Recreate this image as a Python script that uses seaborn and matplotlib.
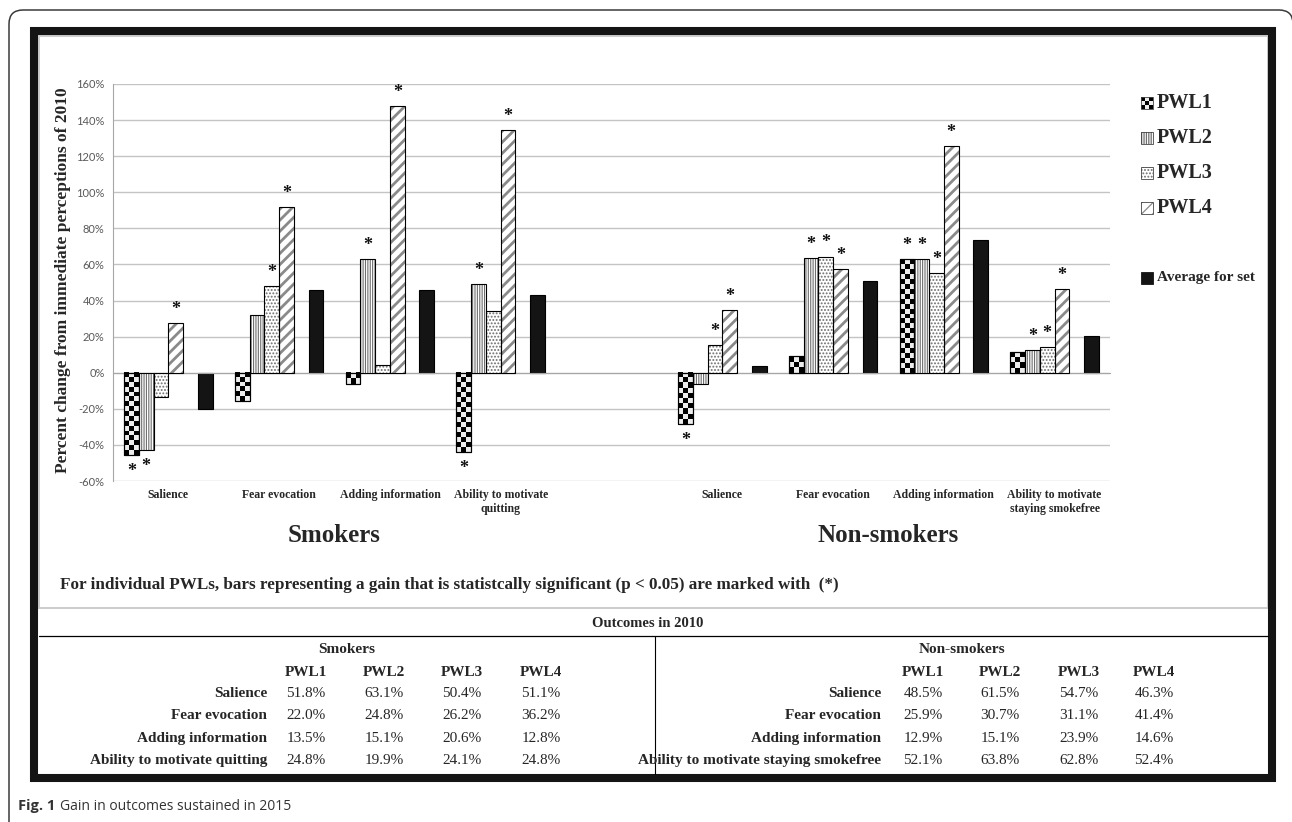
# Tratamiento de datos
import numpy as np
import pandas as pd

# Visualizaciones
import matplotlib
matplotlib.use("Agg")
import matplotlib.pyplot as plt
import matplotlib.patches as mpatches
import matplotlib.transforms as mtransforms
import seaborn as sns

W, H = 1292, 822

# ---------------- Datos ----------------
series = ["PWL1", "PWL2", "PWL3", "PWL4"]
avg_label = "Average for set"

smoker_cats = ["Salience", "Fear evocation", "Adding information",
               "Ability to motivate\nquitting"]
nonsmoker_cats = ["Salience", "Fear evocation", "Adding information",
                  "Ability to motivate\nstaying smokefree"]

smokers_pwl = [[-45.6, -43.0, -13.7, 27.8],
               [-15.6, 32.2, 48.1, 91.7],
               [-6.1, 62.8, 4.4, 147.8],
               [-44.1, 48.9, 34.0, 134.6]]
smokers_avg = [-20.2, 46.1, 46.0, 43.3]

nonsmokers_pwl = [[-28.5, -6.1, 15.2, 35.0],
                  [9.0, 63.3, 64.4, 57.6],
                  [62.8, 62.8, 55.0, 125.4],
                  [11.5, 12.4, 14.4, 46.4]]
nonsmokers_avg = [3.5, 50.9, 73.7, 20.6]

# 1 = significativo (p < 0.05), marcado con *
smokers_sig = [[1, 1, 0, 1], [0, 0, 1, 1], [0, 1, 0, 1], [1, 1, 0, 1]]
nonsmokers_sig = [[1, 0, 1, 1], [0, 1, 1, 1], [1, 1, 1, 1], [0, 1, 1, 1]]

# Tabla "Outcomes in 2010"
table_cols = ["PWL1", "PWL2", "PWL3", "PWL4"]
smokers_rows = ["Salience", "Fear evocation", "Adding information",
                "Ability to motivate quitting"]
smokers_table = [["51.8%", "63.1%", "50.4%", "51.1%"],
                 ["22.0%", "24.8%", "26.2%", "36.2%"],
                 ["13.5%", "15.1%", "20.6%", "12.8%"],
                 ["24.8%", "19.9%", "24.1%", "24.8%"]]
nonsmokers_rows = ["Salience", "Fear evocation", "Adding information",
                   "Ability to motivate staying smokefree"]
nonsmokers_table = [["48.5%", "61.5%", "54.7%", "46.3%"],
                    ["25.9%", "30.7%", "31.1%", "41.4%"],
                    ["12.9%", "15.1%", "23.9%", "14.6%"],
                    ["52.1%", "63.8%", "62.8%", "52.4%"]]

# ---------------- DataFrame largo ----------------
filas = []
for pref, pwl, avg, sig in [("S", smokers_pwl, smokers_avg, smokers_sig),
                            ("N", nonsmokers_pwl, nonsmokers_avg, nonsmokers_sig)]:
    for i in range(4):
        for j, s in enumerate(series):
            filas.append((f"{pref}{i}", s, pwl[i][j], sig[i][j]))
        filas.append((f"{pref}{i}", avg_label, avg[i], 0))
df = pd.DataFrame(filas, columns=["grupo", "serie", "valor", "sig"])

order = ["S0", "S1", "S2", "S3", "GAP", "N0", "N1", "N2", "N3"]
cat_labels = smoker_cats + [""] + nonsmoker_cats
hue_order = series + ["hueco", avg_label]
palette = {"PWL1": "white", "PWL2": "white", "PWL3": "white", "PWL4": "white",
           "hueco": "white", avg_label: "#141414"}

# ---------------- Estilo ----------------
sns.set_style("white")
plt.rcParams["font.family"] = ["Liberation Serif", "DejaVu Serif"]
plt.rcParams["hatch.linewidth"] = 0.9

SERIF = "Liberation Serif"
SANS = "Lato"
GRID = "#c4c4c4"
AXC = "#a6a6a6"

fig = plt.figure(figsize=(W / 100, H / 100), dpi=100)
ax = fig.add_axes([113 / W, 1 - 481 / H, (1110 - 113) / W, (481 - 84) / H])

sns.barplot(data=df, x="grupo", y="valor", hue="serie", order=order,
            hue_order=hue_order, palette=palette, width=0.8, errorbar=None,
            saturation=1, legend=False, edgecolor="black", linewidth=0.8, ax=ax)

ax.set_ylim(-60, 160)
ax.set_xlim(-0.5, 8.5)

# Patrones de relleno
hatch_style = {"PWL2": ("|" * 7, "#6e6e6e", 0.8),
               "PWL3": ("." * 5, "#6e6e6e", 0.9),
               "PWL4": ("///", "#8a8a8a", 2.0)}

niveles = series + [avg_label]


def damero(ax, bar):
    """Dibuja un tablero de ajedrez dentro de la barra."""
    x0, w, h = bar.get_x(), bar.get_width(), bar.get_height()
    (px0, py0), (px1, py1) = ax.transData.transform([(x0, 0), (x0 + w, h)])
    ncol = 3
    lado = abs(px1 - px0) / ncol
    nfil = max(1, int(round(abs(py1 - py0) / lado)))
    tablero = np.indices((nfil, ncol)).sum(axis=0) % 2
    ax.imshow(tablero, cmap="gray", vmin=0, vmax=1.08,
              extent=(x0, x0 + w, min(0, h), max(0, h)), origin="upper",
              aspect="auto", interpolation="nearest", zorder=2)


for nivel, cont in zip(niveles, ax.containers):
    for bar in cont:
        if nivel == "PWL1":
            bar.set_facecolor("none")
            damero(ax, bar)
        elif nivel in hatch_style:
            patron, color, lw = hatch_style[nivel]
            bar.set_hatch(patron)
            bar.set_edgecolor(color)
            bar.set_linewidth(0)
            if hasattr(bar, "set_hatch_linewidth"):
                bar.set_hatch_linewidth(lw)
        bar.set_zorder(3)
        ax.add_patch(mpatches.Rectangle(bar.get_xy(), bar.get_width(), bar.get_height(),
                                        fill=False, edgecolor="black", lw=0.8, zorder=4))

        # Asteriscos de significancia
        if nivel in series:
            cx = bar.get_x() + bar.get_width() / 2
            grupo = order[int(round(cx))]
            sig = df.loc[(df.grupo == grupo) & (df.serie == nivel), "sig"].iloc[0]
            if sig:
                v = bar.get_height()
                dy = 6.5 if v >= 0 else -15
                ax.annotate("*", (cx, v), xytext=(0, dy), textcoords="offset points",
                            ha="center", va="baseline", fontsize=13,
                            fontweight="bold", family=SERIF, color="#111111")

ax.set_ylim(-60, 160)
ax.set_xlim(-0.5, 8.5)
ax.set_xlabel("")
ax.set_ylabel("")

# Ejes
yt = list(range(-60, 161, 20))
ax.set_yticks(yt)
ax.set_yticklabels([f"{v}%" for v in yt], family=SANS, fontsize=8, color="#595959")
ax.yaxis.grid(True, color=GRID, lw=1)
ax.set_axisbelow(True)
ax.tick_params(axis="y", length=4, color=AXC, pad=2)
for s in ["top", "right"]:
    ax.spines[s].set_visible(False)
ax.spines["left"].set_color(AXC)
ax.spines["bottom"].set_color(AXC)
ax.spines["bottom"].set_position(("data", 0))
ax.set_xticks([])
ax.set_xticks(np.arange(-0.5, 9), minor=True)
ax.tick_params(axis="x", which="minor", length=4, color=AXC, direction="out")

for i, lab in enumerate(cat_labels):
    if lab:
        ax.annotate(lab, (i, 0), xycoords=ax.get_xaxis_transform(), xytext=(0, -6),
                    textcoords="offset points", ha="center", va="top",
                    fontsize=8.5, fontweight="bold", family=SERIF, linespacing=1.15)

ax.annotate("Smokers", (1.5, 0), xycoords=ax.get_xaxis_transform(), xytext=(0, -39),
            textcoords="offset points", ha="center", va="center",
            fontsize=18, fontweight="bold", family=SERIF)
ax.annotate("Non-smokers", (6.5, 0), xycoords=ax.get_xaxis_transform(), xytext=(0, -39),
            textcoords="offset points", ha="center", va="center",
            fontsize=18, fontweight="bold", family=SERIF)

fig.text(63 / W, 1 - 280 / H, "Percent change from immediate perceptions of 2010",
         rotation=90, ha="center", va="center", fontsize=12.5, fontweight="bold", family=SERIF)

fig.text(60 / W, 1 - 585 / H,
         "For individual PWLs, bars representing a gain that is statistcally significant "
         "(p < 0.05) are marked with  (*)",
         ha="left", va="center", fontsize=12.3, fontweight="bold", family=SERIF)

# ---------------- Leyenda ----------------
T = mtransforms.Affine2D().scale(1 / W, 1 / H) + fig.transFigure
ley_y = [103, 138, 173, 208]
for nivel, y in zip(series, ley_y):
    if nivel == "PWL1":
        sub = fig.add_axes([1141 / W, 1 - (y + 6) / H, 12 / W, 12 / H])
        sub.imshow(np.indices((3, 3)).sum(axis=0) % 2, cmap="gray", vmin=0, vmax=1.08,
                   interpolation="nearest", aspect="auto")
        sub.set_axis_off()
    else:
        patron, color, lw = hatch_style[nivel]
        sw = mpatches.Rectangle((1141, H - y - 6), 12, 12, transform=T, facecolor="white",
                                edgecolor=color, lw=0, hatch=patron)
        fig.add_artist(sw)
    fig.add_artist(mpatches.Rectangle((1141, H - y - 6), 12, 12, transform=T, fill=False,
                                      edgecolor="#444444", lw=0.6))
    fig.text(1157 / W, 1 - y / H, nivel, ha="left", va="center", fontsize=14.5,
             fontweight="bold", family=SERIF)

fig.add_artist(mpatches.Rectangle((1141, H - 278 - 6), 12, 12, transform=T,
                                  facecolor="#141414", edgecolor="#141414", lw=0.6))
fig.text(1157 / W, 1 - 278 / H, avg_label, ha="left", va="center", fontsize=11,
         fontweight="bold", family=SERIF)

# ---------------- Marcos ----------------
fig.add_artist(mpatches.FancyBboxPatch((9, -30), 1284, H - 10 + 30, transform=T,
                                       boxstyle="round,pad=0,rounding_size=14",
                                       fill=False, edgecolor="#3a3a3a", lw=1.1))
fig.add_artist(mpatches.Rectangle((39, H - 608), 1268 - 39, 608 - 36, transform=T,
                                  fill=False, edgecolor="#cccccc", lw=1.4))
fig.add_artist(mpatches.Rectangle((33.5, H - 777.5), 1271.5 - 33.5, 777.5 - 31.5,
                                  transform=T, fill=False, edgecolor="#141414", lw=5.8))
fig.add_artist(plt.Line2D([39, 1268], [H - 636, H - 636], transform=T, color="black", lw=0.9))
fig.add_artist(plt.Line2D([654.5, 654.5], [H - 636, H - 774], transform=T, color="black", lw=0.8))

# ---------------- Tabla ----------------
fig.text(648 / W, 1 - 623 / H, "Outcomes in 2010", ha="center", va="center",
         fontsize=10.5, fontweight="bold", family=SERIF)

fila_y = [693, 715, 738, 760]


def bloque(titulo, tx, cols_x, etiq_x, filas_lab, valores):
    fig.text(tx / W, 1 - 649 / H, titulo, ha="center", va="center", fontsize=11,
             fontweight="bold", family=SERIF)
    for c, cx in zip(table_cols, cols_x):
        fig.text(cx / W, 1 - 672 / H, c, ha="center", va="center", fontsize=11,
                 fontweight="bold", family=SERIF)
    for lab, vals, y in zip(filas_lab, valores, fila_y):
        fig.text(etiq_x / W, 1 - y / H, lab, ha="right", va="center", fontsize=11,
                 fontweight="bold", family=SERIF)
        for v, cx in zip(vals, cols_x):
            fig.text(cx / W, 1 - y / H, v, ha="center", va="center", fontsize=11,
                     family=SERIF)


bloque("Smokers", 347, [306, 384, 462, 541], 267, smokers_rows, smokers_table)
bloque("Non-smokers", 962, [923, 1000, 1079, 1154], 881, nonsmokers_rows, nonsmokers_table)

# ---------------- Pie ----------------
pie = fig.text(18 / W, 1 - 806 / H, "Fig. 1", ha="left", va="center", fontsize=10.5,
               fontweight="bold", family="Open Sans", color="#333333")
fig.canvas.draw()
bb = pie.get_window_extent(fig.canvas.get_renderer())
fig.text((bb.x1 + 5) / W, 1 - 806 / H, "Gain in outcomes sustained in 2015", ha="left",
         va="center", fontsize=10, family="Open Sans", color="#333333")

fig.savefig("out.png", dpi=100)
